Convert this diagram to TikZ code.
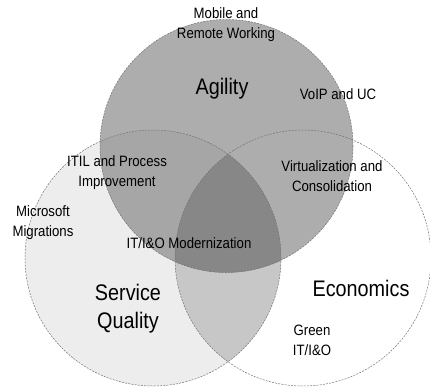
\documentclass[tikz,border=0pt]{standalone}
\usepackage{fontspec}
\setmainfont{Liberation Sans}[FakeStretch=0.88]
\begin{document}
\begin{tikzpicture}[x=1pt,y=-1pt,
  outline/.style={draw=black!55,line width=0.5pt,dash pattern=on 2pt off 1.2pt},
  lbl/.style={align=center,font=\fontsize{15}{20}\selectfont,inner sep=0pt},
  big/.style={align=center,font=\fontsize{22.5}{28}\selectfont,inner sep=0pt}]
\useasboundingbox (0,0) rectangle (430,386);
\def\TopC{(226.5,146) circle (126.5)}
\def\LeftC{(153,258) circle (128)}
\def\RightC{(303,258) circle (128)}
% fills
\fill[black!7] \LeftC;
\begin{scope}\clip \LeftC; \fill[black!22] \RightC; \end{scope}
\fill[black!32] \TopC;
\begin{scope}\clip \TopC; \fill[black!35] \LeftC; \end{scope}
\begin{scope}\clip \TopC; \clip \LeftC; \fill[black!47] \RightC; \end{scope}
% outlines
\draw[outline] \LeftC;
\draw[outline] \RightC;
\draw[outline] \TopC;
% labels
\node[lbl] (mob) at (226,25) {Mobile and\\Remote Working};
\node[big] (agi) at (222,89) {Agility};
\node[lbl] (voip) at (338,94) {VoIP and UC};
\node[lbl] (itil) at (117,173) {ITIL and Process\\Improvement};
\node[lbl] (virt) at (332,176) {Virtualization and\\Consolidation};
\node[lbl] (ms) at (43,223) {Microsoft\\Migrations};
\node[lbl] (mod) at (189,243) {IT/I\&O Modernization};
\node[big] (sq) at (128,309) {Service\\Quality};
\node[big] (eco) at (361,288) {Economics};
\node[lbl] (green) at (312,340) {Green\\IT/I\&O};
\end{tikzpicture}
\end{document}
